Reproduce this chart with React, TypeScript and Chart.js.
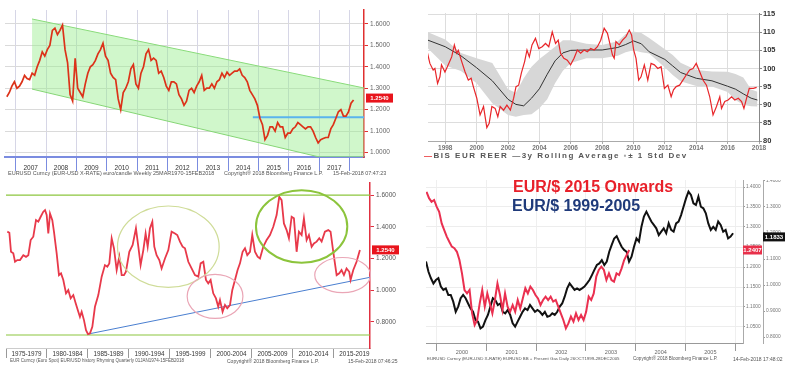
import React, { useEffect, useRef } from 'react';
import { Chart, registerables } from 'chart.js';

Chart.register(...registerables);

const FONT = '"Liberation Sans", Arial, Helvetica, sans-serif';

// ---------------- Panel 1: EURUSD weekly channel ----------------
const p1StartYear = 2006.71; // Sep 2006, monthly samples
const p1Values = [
  1.26, 1.28, 1.31, 1.33,
  1.30, 1.31, 1.33, 1.36, 1.345, 1.34, 1.37, 1.36, 1.40, 1.43, 1.47, 1.45,
  1.48, 1.50, 1.57, 1.58, 1.55, 1.57, 1.595, 1.48, 1.42, 1.27, 1.24, 1.44,
  1.30, 1.28, 1.26, 1.32, 1.37, 1.40, 1.41, 1.43, 1.46, 1.48, 1.51, 1.45,
  1.43, 1.37, 1.35, 1.34, 1.25, 1.20, 1.28, 1.30, 1.33, 1.39, 1.41, 1.32,
  1.30, 1.37, 1.40, 1.46, 1.48, 1.43, 1.44, 1.43, 1.37, 1.38, 1.35, 1.31,
  1.29, 1.33, 1.33, 1.32, 1.27, 1.25, 1.22, 1.24, 1.29, 1.30, 1.28, 1.31,
  1.33, 1.36, 1.29, 1.30, 1.30, 1.32, 1.30, 1.33, 1.34, 1.37, 1.35, 1.375,
  1.36, 1.37, 1.38, 1.38, 1.39, 1.36, 1.35, 1.33, 1.29, 1.27, 1.25, 1.22,
  1.16, 1.13, 1.06, 1.08, 1.12, 1.12, 1.10, 1.14, 1.12, 1.12, 1.07, 1.09,
  1.09, 1.11, 1.12, 1.14, 1.13, 1.12, 1.11, 1.12, 1.12, 1.10, 1.07, 1.045,
  1.06, 1.065, 1.07, 1.07, 1.11, 1.13, 1.16, 1.19, 1.20, 1.17, 1.17, 1.19,
  1.23, 1.245,
];
const p1YearTicks = [2007, 2008, 2009, 2010, 2011, 2012, 2013, 2014, 2015, 2016, 2017, 2018];
const p1PriceTicks = [1.0, 1.1, 1.2, 1.3, 1.4, 1.5, 1.6];
const p1ChannelUpperX = [2007.54, 2018.47];
const p1ChannelUpperY = [1.623, 1.301];
const p1ChannelLowerX = [2007.54, 2017.0, 2018.47];
const p1ChannelLowerY = [1.296, 0.979, 0.979];
const p1SupportX = [2014.81, 2018.47];
const p1SupportY = [1.165, 1.165];
const p1LastValue = 1.254;
const p1LastLabel = '1.2540';

// ---------------- Panel 2: BIS EUR REER ----------------
const p2ReerYears = [
  1996.87, 1997.02, 1997.23, 1997.34, 1997.51, 1997.66, 1997.76, 1997.98, 1998.19, 1998.41,
  1998.58, 1998.73, 1998.83, 1999.05, 1999.26, 1999.47, 1999.65, 1999.79, 2000.01, 2000.22,
  2000.44, 2000.65, 2000.80, 2000.97, 2001.18, 2001.35, 2001.50, 2001.72, 2001.93, 2002.15,
  2002.36, 2002.51, 2002.68, 2002.85, 2003.06, 2003.21, 2003.36, 2003.53, 2003.75, 2003.96,
  2004.18, 2004.39, 2004.60, 2004.82, 2005.03, 2005.20, 2005.35, 2005.56, 2005.78, 2005.99,
  2006.21, 2006.42, 2006.63, 2006.85, 2007.06, 2007.27, 2007.49, 2007.70, 2007.91, 2008.13,
  2008.34, 2008.49, 2008.66, 2008.77, 2008.88, 2009.09, 2009.30, 2009.52, 2009.73, 2009.88,
  2010.01, 2010.16, 2010.33, 2010.48, 2010.69, 2010.91, 2011.12, 2011.33, 2011.55, 2011.76,
  2011.97, 2012.19, 2012.40, 2012.55, 2012.72, 2012.94, 2013.15, 2013.36, 2013.58, 2013.79,
  2014.00, 2014.22, 2014.43, 2014.65, 2014.86, 2015.07, 2015.29, 2015.50, 2015.61, 2015.82,
  2016.03, 2016.25, 2016.46, 2016.68, 2016.89, 2017.04, 2017.21, 2017.38, 2017.64, 2017.85,
];
const p2ReerValues = [
  104.2, 101.4, 99.6, 100, 95.9, 97.7, 101, 99, 101, 103.2,
  106.5, 104.2, 105, 101.9, 99.1, 96.8, 97.3, 95, 91.8, 87.2,
  89.5, 83.7, 84.9, 89.5, 89, 86.7, 89.5, 88.5, 89.9, 88.5,
  91.8, 95, 95.4, 98.7, 101.9, 105.1, 103.2, 106.5, 108.3, 105.5,
  106, 106.9, 106, 110.1, 106.9, 107.8, 104.2, 102.8, 102.3, 101,
  102.8, 105.1, 104.2, 105.1, 104.6, 105.5, 105.1, 106, 107.8, 111.1,
  109.7, 106.9, 103.7, 102.8, 107.4, 106.5, 107.8, 108.8, 110.6, 109.2,
  105.1, 102.8, 96.8, 97.7, 101, 96.8, 101.4, 101, 100, 100.5,
  94.5, 95.4, 92.2, 94.1, 95, 95.4, 96.8, 98.2, 99.6, 100,
  101.4, 99.1, 96.8, 95.4, 92.2, 87.2, 89.5, 92.2, 89, 90.9,
  91.3, 92.2, 91.3, 91.8, 90.9, 89, 91.8, 94.5, 94.5, 94.8,
];
const p2BandYears = [
  1996.9, 1998, 1999, 2000, 2001, 2002, 2002.5, 2003, 2003.5, 2004, 2004.5, 2005, 2005.5, 2006, 2007, 2008,
  2009, 2009.5, 2010, 2010.5, 2011, 2012, 2012.5, 2013, 2014, 2015, 2016, 2016.5, 2017, 2017.5, 2017.9,
];
const p2AvgValues = [
  107.8, 106, 103.5, 100.2, 96.6, 91.5, 90.1, 89.7, 91.8, 94.4, 98.4, 102.1, 104.3, 105, 105.1, 105.1,
  105.8, 106.6, 107.6, 106.8, 104.6, 102.5, 100.7, 98.9, 97.3, 96.6, 95.1, 94.3, 93, 91.8, 91.3,
];
const p2UpperValues = [
  110, 108, 104.3, 102.8, 101.5, 94.3, 93.3, 97.3, 100.5, 102.6, 104.3, 106, 107.8, 107.8, 106.8, 106.5,
  107.5, 109.5, 110.2, 109.8, 108.4, 105.3, 103.7, 101.6, 99.6, 99.2, 99.1, 98.5, 97.5, 94.2, 93.6,
];
const p2LowerValues = [
  105.5, 100.8, 99.3, 95.9, 90.4, 87.2, 86.7, 87.2, 87.4, 89, 91.5, 95.9, 99.4, 101.5, 102.8, 102.8,
  103.5, 104.5, 105, 104.5, 104.1, 100.3, 98.2, 96.5, 95.2, 95, 93.5, 91.3, 90, 89.6, 89.5,
];
const p2YearTicks = [1998, 2000, 2002, 2004, 2006, 2008, 2010, 2012, 2014, 2016, 2018];
const p2IndexTicks = [80, 85, 90, 95, 100, 105, 110, 115];

// ---------------- Panel 3: EUR quarterly history ----------------
const p3Years = [
  1975.16, 1975.41, 1975.61, 1975.89, 1976.10, 1976.38, 1976.71, 1977.11, 1977.44, 1977.72,
  1978.01, 1978.33, 1978.66, 1978.94, 1979.23, 1979.55, 1979.76, 1979.96, 1980.16, 1980.37,
  1980.65, 1980.85, 1981.18, 1981.46, 1981.71, 1981.99, 1982.32, 1982.60, 1982.89, 1983.21,
  1983.50, 1983.82, 1984.02, 1984.23, 1984.51, 1984.76, 1985.00, 1985.24, 1985.53, 1985.85,
  1986.26, 1986.67, 1987.07, 1987.36, 1987.60, 1987.89, 1988.17, 1988.50, 1988.82, 1989.11,
  1989.39, 1989.63, 1990.04, 1990.45, 1990.85, 1991.14, 1991.42, 1991.75, 1992.03, 1992.28,
  1992.56, 1992.85, 1993.09, 1993.37, 1993.70, 1993.98, 1994.39, 1994.80, 1995.20, 1995.61,
  1995.89, 1996.22, 1996.54, 1996.83, 1997.24, 1997.64, 1998.05, 1998.46, 1998.74, 1999.07,
  1999.39, 1999.67, 1999.96, 2000.28, 2000.61, 2000.89, 2001.10, 2001.42, 2001.71, 2001.99,
  2002.32, 2002.60, 2002.93, 2003.25, 2003.54, 2003.86, 2004.15, 2004.43, 2004.76, 2005.04,
  2005.37, 2005.69, 2005.98, 2006.38, 2006.79, 2007.20, 2007.60, 2008.01, 2008.33, 2008.62,
  2008.90, 2009.23, 2009.51, 2009.84, 2010.12, 2010.45, 2010.73, 2011.06, 2011.34, 2011.67,
  2011.95, 2012.28, 2012.56, 2012.89, 2013.21, 2013.50, 2013.90, 2014.31, 2014.59, 2014.92,
  2015.33, 2015.65, 2015.93, 2016.22, 2016.54, 2016.87, 2017.03, 2017.36, 2017.76, 2018.17,
];
const p3Values = [
  1.369, 1.362, 1.242, 1.232, 1.18, 1.19, 1.19, 1.22, 1.21, 1.22,
  1.316, 1.337, 1.442, 1.432, 1.463, 1.495, 1.505, 1.474, 1.358, 1.484,
  1.442, 1.369, 1.232, 1.095, 1.106, 1.064, 0.98, 1.0, 0.948, 0.969,
  0.917, 0.864, 0.832, 0.864, 0.811, 0.748, 0.723, 0.727, 0.769, 0.895,
  0.969, 1.085, 1.158, 1.148, 1.169, 1.327, 1.264, 1.127, 1.211, 1.095,
  1.095, 1.116, 1.242, 1.285, 1.39, 1.274, 1.158, 1.253, 1.358, 1.274,
  1.39, 1.432, 1.274, 1.221, 1.19, 1.137, 1.2, 1.253, 1.369, 1.358,
  1.348, 1.306, 1.274, 1.264, 1.179, 1.137, 1.095, 1.085, 1.169, 1.179,
  1.064, 1.043, 1.064, 0.98, 0.948, 0.895, 0.937, 0.864, 0.906, 0.885,
  0.906, 1.0, 1.064, 1.127, 1.169, 1.242, 1.264, 1.221, 1.242, 1.348,
  1.242, 1.211, 1.2, 1.274, 1.316, 1.348, 1.4, 1.474, 1.589, 1.568,
  1.421, 1.379, 1.327, 1.463, 1.453, 1.242, 1.369, 1.348, 1.453, 1.316,
  1.348, 1.274, 1.295, 1.306, 1.327, 1.306, 1.369, 1.379, 1.369, 1.242,
  1.095, 1.106, 1.127, 1.095, 1.137, 1.116, 1.064, 1.127, 1.179, 1.253,
];
const p3PeriodStarts = [1975, 1980, 1985, 1990, 1995, 2000, 2005, 2010, 2015];
const p3PeriodLabels = ['1975-1979', '1980-1984', '1985-1989', '1990-1994', '1995-1999', '2000-2004', '2005-2009', '2010-2014', '2015-2019'];
const p3PriceTicks = [0.8, 1.0, 1.2, 1.4, 1.6];
const p3UpperLevel = 1.6;
const p3LowerLevel = 0.717;
const p3TrendX = [1985.0, 2019.4];
const p3TrendY = [0.723, 1.081];
const p3LastValue = 1.254;
const p3LastLabel = '1.2540';
// highlight ellipses (centre year, centre value, half-width in years, half-height in price)
const p3Ellipses = [
  { cx: 1994.8, cy: 1.274, rx: 6.2, ry: 0.257, color: '#cfdc98', width: 1.2 },
  { cx: 2000.5, cy: 0.961, rx: 3.4, ry: 0.139, color: '#eaa6b6', width: 1.2 },
  { cx: 2011.06, cy: 1.402, rx: 5.57, ry: 0.229, color: '#8cc43c', width: 2 },
  { cx: 2016.06, cy: 1.095, rx: 3.4, ry: 0.111, color: '#eaa6b6', width: 1.2 },
];

// ---------------- Panel 4: EUR/$ 2015 onwards vs 1999-2005 ----------------
const p4RedStart = 1999.79;
const p4RedEnd = 2003.87;
const p4RedValues = [
  1.388, 1.372, 1.363, 1.3675, 1.351, 1.338, 1.309, 1.292, 1.276, 1.263,
  1.251, 1.247, 1.238, 1.2175, 1.184, 1.1425, 1.134, 1.1425, 1.084, 1.055,
  1.0675, 1.109, 1.1425, 1.101, 1.134, 1.109, 1.084, 1.1175, 1.159, 1.13,
  1.0925, 1.134, 1.101, 1.088, 1.105, 1.088, 1.1175, 1.0965, 1.1215, 1.147,
  1.134, 1.151, 1.1425, 1.13, 1.1215, 1.105, 1.1175, 1.126, 1.1175, 1.126,
  1.1135, 1.1175, 1.101, 1.084, 1.0675, 1.0465, 1.059, 1.076, 1.0635, 1.084,
  1.0675, 1.08, 1.0675, 1.088, 1.126, 1.1175, 1.134, 1.176, 1.1925, 1.201,
  1.1925, 1.1675, 1.184, 1.1675, 1.1635, 1.184, 1.18, 1.1965, 1.2175, 1.23,
  1.2425,
];
const p4BlackStart = 1999.78;
const p4BlackEnd = 2005.96;
const p4BlackValues = [
  1.09, 1.051, 1.026, 1.006, 1.019, 1.026, 0.994, 0.981, 0.987, 0.962,
  0.962, 0.936, 0.897, 0.917, 0.949, 0.962, 0.949, 0.929, 0.91, 0.897,
  0.865, 0.859, 0.833, 0.84, 0.865, 0.885, 0.917, 0.949, 0.942, 0.923,
  0.929, 0.897, 0.891, 0.904, 0.885, 0.853, 0.84, 0.859, 0.878, 0.897,
  0.91, 0.904, 0.923, 0.91, 0.897, 0.904, 0.897, 0.885, 0.897, 0.878,
  0.881, 0.891, 0.885, 0.897, 0.917, 0.929, 0.955, 0.987, 1.006, 0.994,
  0.981, 0.987, 0.981, 0.987, 0.994, 1.006, 1.019, 1.038, 1.058, 1.077,
  1.083, 1.096, 1.077, 1.09, 1.128, 1.154, 1.179, 1.188, 1.167, 1.147,
  1.135, 1.128, 1.09, 1.109, 1.147, 1.179, 1.167, 1.224, 1.263, 1.282,
  1.263, 1.244, 1.231, 1.218, 1.192, 1.205, 1.218, 1.199, 1.237, 1.212,
  1.205, 1.237, 1.244, 1.269, 1.301, 1.333, 1.359, 1.346, 1.314, 1.308,
  1.34, 1.301, 1.295, 1.276, 1.237, 1.212, 1.224, 1.212, 1.244, 1.231,
  1.205, 1.212, 1.179, 1.186, 1.199,
];
const p4YearTicks = [2000, 2001, 2002, 2003, 2004, 2005, 2006];
const p4RedTicks = [1.05, 1.1, 1.15, 1.2, 1.25, 1.3, 1.35, 1.4];
const p4BlackTicks = [0.8, 0.9, 1.0, 1.1, 1.2, 1.3, 1.4];
const p4RedLast = 1.2425;
const p4RedLastLabel = '1.2407';
const p4BlackLast = 1.185;
const p4BlackLastLabel = '1.1833';

// ---------------- helpers ----------------
const zip = (xs: number[], ys: number[]) => xs.map((x, i) => ({ x, y: ys[i] }));
const even = (start: number, end: number, ys: number[]) =>
  ys.map((y, i) => ({ x: start + ((end - start) * i) / (ys.length - 1), y }));

const setTicks = (vals: number[]) => (s: any) => {
  s.ticks = vals.map((v) => ({ value: v }));
};
const fixW = (w: number) => (s: any) => {
  s.width = w;
  s.paddingTop = 0; s.paddingBottom = 0; s.paddingLeft = 0; s.paddingRight = 0;
};
const fixH = (h: number) => (s: any) => {
  s.height = h;
  s.paddingTop = 0; s.paddingBottom = 0; s.paddingLeft = 0; s.paddingRight = 0;
};

type Tag = { scaleId: string; value: number; text: string; bg: string; fg: string; w: number; dx: number };
const tagPlugin = (tags: Tag[]) => ({
  id: 'valueTags',
  afterDraw(chart: any) {
    const ctx = chart.ctx;
    tags.forEach((t) => {
      const s = chart.scales[t.scaleId];
      const y = s.getPixelForValue(t.value);
      const x = s.left + t.dx;
      ctx.save();
      ctx.fillStyle = t.bg;
      ctx.fillRect(x, y - 4.5, t.w, 9);
      ctx.fillStyle = t.fg;
      ctx.font = `bold 6px ${FONT}`;
      ctx.textBaseline = 'middle';
      ctx.textAlign = 'center';
      ctx.fillText(t.text, x + t.w / 2, y + 0.5);
      ctx.restore();
    });
  },
});

const ellipsePlugin = {
  id: 'ellipses',
  afterDatasetsDraw(chart: any) {
    const ctx = chart.ctx;
    const xs = chart.scales.x;
    const ys = chart.scales.y;
    p3Ellipses.forEach((e) => {
      const cx = xs.getPixelForValue(e.cx);
      const cy = ys.getPixelForValue(e.cy);
      const rx = Math.abs(xs.getPixelForValue(e.cx + e.rx) - cx);
      const ry = Math.abs(ys.getPixelForValue(e.cy + e.ry) - cy);
      ctx.save();
      ctx.strokeStyle = e.color;
      ctx.lineWidth = e.width;
      ctx.beginPath();
      ctx.ellipse(cx, cy, rx, ry, 0, 0, Math.PI * 2);
      ctx.stroke();
      ctx.restore();
    });
  },
};

const base = {
  responsive: false,
  animation: false,
  devicePixelRatio: 1,
  events: [],
  plugins: { legend: { display: false }, tooltip: { enabled: false } },
  elements: { point: { radius: 0 }, line: { tension: 0 } },
};

// ---------------- configs ----------------
const p1Config = (): any => ({
  type: 'line',
  data: {
    datasets: [
      { data: p1Values.map((v, i) => ({ x: p1StartYear + i / 12, y: v })), borderColor: '#dc3219', borderWidth: 1.7, order: 0 },
      { data: zip(p1SupportX, p1SupportY), borderColor: '#5ab4ee', borderWidth: 2, order: 1 },
      { data: zip(p1ChannelUpperX, p1ChannelUpperY), borderColor: '#86d676', borderWidth: 1, order: 3 },
      { data: zip(p1ChannelLowerX, p1ChannelLowerY), borderColor: '#86d676', borderWidth: 1, fill: '-1', backgroundColor: 'rgba(150,238,140,0.45)', order: 2 },
    ],
  },
  options: {
    ...base,
    layout: { padding: { left: 5, top: 10, right: 0, bottom: 0 } },
    scales: {
      x: {
        type: 'linear', min: 2006.65, max: 2018.47, bounds: 'data',
        afterBuildTicks: setTicks(p1YearTicks), afterFit: fixH(23),
        grid: { color: '#d6d6e6', tickColor: '#7b8ce0', tickLength: 14 },
        border: { color: '#7b8ce0', width: 2 },
        ticks: {
          autoSkip: false, maxRotation: 0, labelOffset: 15, padding: -7,
          font: { family: FONT, size: 6.5 }, color: '#333',
          callback: (v: number) => (v < 2018 ? String(v) : ''),
        },
      },
      y: {
        type: 'linear', position: 'right', min: 0.979, max: 1.665, bounds: 'data',
        afterBuildTicks: setTicks(p1PriceTicks), afterFit: fixW(36),
        grid: { color: '#dadada', tickColor: '#e03030', tickLength: 4 },
        border: { color: '#e03030', width: 1.5 },
        ticks: { padding: 2, font: { family: FONT, size: 6.5 }, color: '#666', callback: (v: number) => v.toFixed(4) },
      },
    },
  },
  plugins: [tagPlugin([{ scaleId: 'y', value: p1LastValue, text: p1LastLabel, bg: '#e8141c', fg: '#fff', w: 27, dx: 2 }])],
});

const p2Config = (): any => ({
  type: 'line',
  data: {
    datasets: [
      { data: zip(p2ReerYears, p2ReerValues), borderColor: '#e8262a', borderWidth: 1.2, order: 0 },
      { data: zip(p2BandYears, p2AvgValues), borderColor: '#333333', borderWidth: 1, order: 1 },
      { data: zip(p2BandYears, p2UpperValues), borderColor: 'rgba(0,0,0,0)', borderWidth: 0, order: 3 },
      { data: zip(p2BandYears, p2LowerValues), borderColor: 'rgba(0,0,0,0)', borderWidth: 0, fill: '-1', backgroundColor: '#d7d7d7', order: 2 },
    ],
  },
  options: {
    ...base,
    layout: { padding: { left: 28, top: 13, right: 0, bottom: 0 } },
    scales: {
      x: {
        type: 'linear', min: 1996.9, max: 2018, bounds: 'data',
        afterBuildTicks: setTicks(p2YearTicks), afterFit: fixH(39),
        grid: { color: '#dddddd', tickColor: '#aaaaaa', tickLength: 3 },
        border: { color: '#aaaaaa', width: 1 },
        ticks: { autoSkip: false, maxRotation: 0, padding: 0, font: { family: FONT, size: 6.5, weight: 'bold' }, color: '#777', callback: (v: number) => String(v) },
      },
      y: {
        type: 'linear', position: 'right', min: 80, max: 115.3, bounds: 'data',
        afterBuildTicks: setTicks(p2IndexTicks), afterFit: fixW(28),
        grid: { color: '#dddddd', tickColor: '#888888', tickLength: 3 },
        border: { color: '#888888', width: 1 },
        ticks: { padding: 1, font: { family: FONT, size: 7.5, weight: 'bold' }, color: '#333', callback: (v: number) => String(v) },
      },
    },
  },
});

const p3Config = (): any => ({
  type: 'line',
  data: {
    datasets: [
      { data: zip(p3Years, p3Values), borderColor: '#e8394a', borderWidth: 1.8, order: 0 },
      { data: zip(p3TrendX, p3TrendY), borderColor: '#4a7fd0', borderWidth: 1, order: 1 },
      { data: [{ x: 1975, y: p3UpperLevel }, { x: 2019.4, y: p3UpperLevel }], borderColor: '#8cc63e', borderWidth: 1.2, order: 2 },
      { data: [{ x: 1975, y: p3LowerLevel }, { x: 2019.4, y: p3LowerLevel }], borderColor: '#8cc63e', borderWidth: 1.2, order: 2 },
    ],
  },
  options: {
    ...base,
    layout: { padding: { left: 6, top: 3, right: 0, bottom: 0 } },
    scales: {
      x: {
        type: 'linear', min: 1975, max: 2019.4, bounds: 'data',
        afterBuildTicks: setTicks(p3PeriodStarts), afterFit: fixH(19),
        grid: { drawOnChartArea: false, tickColor: '#999999', tickLength: 10 },
        border: { color: '#cccccc', width: 1 },
        ticks: {
          autoSkip: false, maxRotation: 0, labelOffset: 20.5, padding: -8,
          font: { family: FONT, size: 6.3 }, color: '#333',
          callback: (v: number) => { const i = p3PeriodStarts.indexOf(v); return i >= 0 ? p3PeriodLabels[i] : ''; },
        },
      },
      y: {
        type: 'linear', position: 'right', min: 0.635, max: 1.676, bounds: 'data',
        afterBuildTicks: setTicks(p3PriceTicks), afterFit: fixW(30),
        grid: { drawOnChartArea: false, tickColor: '#e03040', tickLength: 4 },
        border: { color: '#e03040', width: 1.5 },
        ticks: { padding: 2, font: { family: FONT, size: 6.5 }, color: '#555', callback: (v: number) => v.toFixed(4) },
      },
    },
  },
  plugins: [ellipsePlugin, tagPlugin([{ scaleId: 'y', value: p3LastValue, text: p3LastLabel, bg: '#e8141c', fg: '#fff', w: 27, dx: 2 }])],
});

const p4Config = (): any => ({
  type: 'line',
  data: {
    datasets: [
      { data: even(p4BlackStart, p4BlackEnd, p4BlackValues), yAxisID: 'yB', borderColor: '#111111', borderWidth: 2, order: 1 },
      { data: even(p4RedStart, p4RedEnd, p4RedValues), yAxisID: 'yR', borderColor: '#ea3050', borderWidth: 2, order: 0 },
    ],
  },
  options: {
    ...base,
    layout: { padding: { left: 26, top: 0, right: 0, bottom: 0 } },
    scales: {
      x: {
        type: 'linear', min: 1999.78, max: 2006.16, bounds: 'data',
        afterBuildTicks: setTicks(p4YearTicks), afterFit: fixH(24),
        grid: { color: '#efefef', tickColor: '#999999', tickLength: 8 },
        border: { color: '#999999', width: 1 },
        ticks: {
          autoSkip: false, maxRotation: 0, labelOffset: 25, padding: -2,
          font: { family: FONT, size: 5.5 }, color: '#666',
          callback: (v: number) => (v < 2006 ? String(v) : ''),
        },
      },
      yR: {
        type: 'linear', position: 'right', weight: 0, min: 1.01, max: 1.4175, bounds: 'data',
        afterBuildTicks: setTicks(p4RedTicks), afterFit: fixW(20),
        grid: { color: '#ededed', tickColor: '#999999', tickLength: 2 },
        border: { color: '#aaaaaa', width: 1 },
        ticks: { padding: 1, font: { family: FONT, size: 4.8 }, color: '#777', callback: (v: number) => v.toFixed(4) },
      },
      yB: {
        type: 'linear', position: 'right', weight: 1, min: 0.777, max: 1.4038, bounds: 'data',
        afterBuildTicks: setTicks(p4BlackTicks), afterFit: fixW(24),
        grid: { drawOnChartArea: false, tickColor: '#999999', tickLength: 2 },
        border: { color: '#aaaaaa', width: 1 },
        ticks: { padding: 1, font: { family: FONT, size: 4.8 }, color: '#777', callback: (v: number) => v.toFixed(4) },
      },
    },
  },
  plugins: [tagPlugin([
    { scaleId: 'yR', value: p4RedLast, text: p4RedLastLabel, bg: '#e8304a', fg: '#fff', w: 19, dx: 0 },
    { scaleId: 'yB', value: p4BlackLast, text: p4BlackLastLabel, bg: '#111111', fg: '#fff', w: 22, dx: 0 },
  ])],
});

// ---------------- components ----------------
function Panel({ x, y, w, h, make }: { x: number; y: number; w: number; h: number; make: () => any }) {
  const ref = useRef<HTMLCanvasElement>(null);
  useEffect(() => {
    const chart = new Chart(ref.current as HTMLCanvasElement, make());
    return () => chart.destroy();
  }, []);
  return (
    <canvas ref={ref} width={w} height={h} style={{ position: 'absolute', left: x, top: y, width: w, height: h }} />
  );
}

const small = (left: number, top: number, size: number, text: string, color = '#555') => (
  <div style={{ position: 'absolute', left, top, fontFamily: FONT, fontSize: size, lineHeight: `${size + 1}px`, color, whiteSpace: 'nowrap' }}>{text}</div>
);

export default function App() {
  return (
    <div style={{ position: 'fixed', left: 0, top: 0, width: 787, height: 367, background: '#ffffff', overflow: 'hidden' }}>
      <Panel x={0} y={0} w={400} h={180} make={p1Config} />
      <Panel x={400} y={0} w={387} h={180} make={p2Config} />
      <Panel x={0} y={180} w={400} h={187} make={p3Config} />
      <Panel x={400} y={180} w={387} h={187} make={p4Config} />

      {small(8, 170, 5.5, 'EURUSD Curncy (EUR-USD X-RATE) euro/candle Weekly 25MAR1970-15FEB2018')}
      {small(224, 170, 5.4, 'Copyright® 2018 Bloomberg Finance L.P.')}
      {small(333, 170, 5.4, '15-Feb-2018 07:47:23')}

      <div style={{ position: 'absolute', left: 424, top: 151, fontFamily: FONT, fontSize: 8, lineHeight: '9px', fontWeight: 'bold', color: '#555', letterSpacing: 1.5, whiteSpace: 'nowrap' }}>
        <span style={{ color: '#e8262a' }}>—</span>BIS EUR REER <span style={{ color: '#666' }}>—</span>3y Rolling Average <span style={{ color: '#aaa' }}>▪</span>± 1 Std Dev
      </div>

      {small(10, 358, 4.5, 'EUR Curncy (Euro Spot) EUR/USD history Rhyming Quarterly 01JAN1974-15FEB2018')}
      {small(227, 358, 5, 'Copyright® 2018 Bloomberg Finance L.P.')}
      {small(348, 358, 5, '15-Feb-2018 07:46:25')}

      {small(427, 356, 4.4, 'EURUSD Curncy (EUR-USD X-RATE) EURUSD BB + Present Gas Daily 26OCT1999-28DEC2005')}
      {small(633, 356, 4.6, 'Copyright® 2018 Bloomberg Finance L.P.')}
      {small(733, 356, 5, '14-Feb-2018 17:48:02')}

      <div style={{ position: 'absolute', left: 513, top: 179, fontFamily: FONT, fontSize: 16, lineHeight: '16px', fontWeight: 'bold', color: '#e8202a', whiteSpace: 'nowrap' }}>EUR/$ 2015 Onwards</div>
      <div style={{ position: 'absolute', left: 512, top: 198, fontFamily: FONT, fontSize: 16, lineHeight: '16px', fontWeight: 'bold', color: '#1f3a7a', whiteSpace: 'nowrap' }}>EUR/$ 1999-2005</div>
    </div>
  );
}
